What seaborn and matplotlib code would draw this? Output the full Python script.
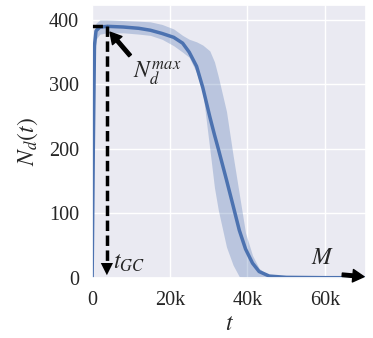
import seaborn as sns
import matplotlib
matplotlib.use('Agg')
import matplotlib.pyplot as plt
import numpy as np
import pandas as pd
from matplotlib.ticker import FuncFormatter

# values (t in steps)
t = [0, 300, 600, 1000, 2000, 4000, 8000, 12000, 15000, 18000, 21000, 23300, 25000,
     26900, 28500, 30300, 31500, 32500, 34600, 36300, 37900, 39500, 41300, 43000,
     45600, 50000, 60000, 70000]
n_mean = [0, 200, 360, 383, 389, 390, 389, 387, 384, 379, 373, 364, 350,
          328, 295, 250, 222, 200, 152, 112, 74, 45, 23, 10,
          3, 1, 0.5, 0.5]
n_low = [0, 150, 320, 370, 378, 380, 380, 378, 376, 370, 360, 350, 342,
         318, 288, 200, 140, 105, 48, 20, 2, 0, 0, 0,
         0, 0, 0, 0]
n_high = [0, 260, 385, 395, 400, 400, 399, 398, 397, 393, 386, 376, 370,
          366, 361, 352, 335, 312, 258, 190, 130, 70, 35, 15,
          3, 1.5, 1, 1]

t_gc = 3800
n_max = 391

df = pd.DataFrame({'t': t, 'mean': n_mean, 'low': n_low, 'high': n_high})

sns.set_theme(style='darkgrid')
plt.rcParams['font.family'] = ['Liberation Serif', 'DejaVu Serif']
plt.rcParams['mathtext.fontset'] = 'stix'

fig = plt.figure(figsize=(3.73, 3.38), dpi=100)
ax = fig.add_axes([0.247, 0.1775, 0.734, 0.8075])

color = sns.color_palette('deep')[0]
ax.fill_between(df['t'], df['low'], df['high'], color=color, alpha=0.3, lw=0)
sns.lineplot(data=df, x='t', y='mean', ax=ax, color=color, lw=2.5)

# dashed guides to the maximum
ax.plot([0, t_gc], [n_max, n_max], ls='--', color='black', lw=2.5, dashes=(3, 1.3))
ax.plot([t_gc, t_gc], [n_max, 25], ls='--', color='black', lw=2.5, dashes=(3, 1.3))
ax.annotate('', xy=(t_gc, 0), xytext=(t_gc, 30),
            arrowprops=dict(arrowstyle='-|>', color='black', lw=0, mutation_scale=22))
ax.text(t_gc + 1600, 22, r'$t_{GC}$', fontsize=17, va='center')

ax.annotate(r'$N_d^{max}$', xy=(t_gc + 800, 381), xytext=(10500, 318),
            fontsize=17, va='center',
            arrowprops=dict(facecolor='black', edgecolor='black', width=2.5,
                            headwidth=9, headlength=8, shrink=0.0))
ax.annotate('', xy=(70000, 2), xytext=(64400, 5),
            arrowprops=dict(facecolor='black', edgecolor='black', width=2.5,
                            headwidth=9, headlength=8, shrink=0.0),
            annotation_clip=False)
ax.text(59200, 30, r'$M$', fontsize=17, ha='center', va='center')

ax.set_xlim(0, 70500)
ax.set_ylim(0, 423)
ax.set_xticks([0, 20000, 40000, 60000])
ax.set_yticks([0, 100, 200, 300, 400])
ax.xaxis.set_major_formatter(FuncFormatter(lambda v, p: '0' if v == 0 else f'{int(v / 1000)}k'))
ax.tick_params(labelsize=14.5)
ax.set_xlabel(r'$t$', fontsize=17, labelpad=3)
ax.set_ylabel(r'$N_d(t)$', fontsize=17, labelpad=6)

fig.savefig('out.png', dpi=100)
